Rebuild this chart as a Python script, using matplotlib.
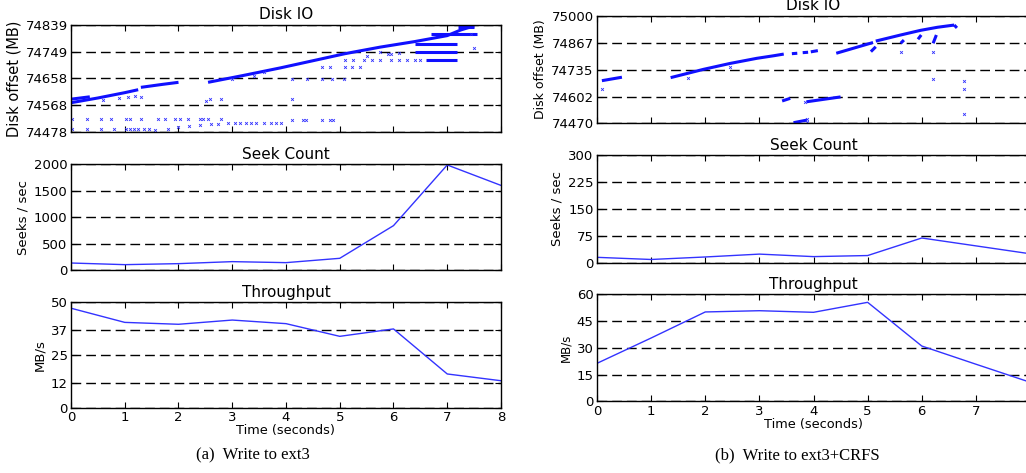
import matplotlib
matplotlib.use("Agg")
import matplotlib.pyplot as plt

plt.rcParams['font.family'] = ['DejaVu Sans']

seconds = [0, 1, 2, 3, 4, 5, 6, 7, 8]

# seek counts (seeks / sec)
seek_ext3 = [132, 101, 120, 158, 139, 221, 839, 1987, 1600]
seek_crfs = [15, 9, 16, 24, 17, 20, 69, 47, 25]

# throughput (MB/s)
thru_ext3 = [47.2, 40.5, 39.6, 41.6, 39.9, 33.9, 37.4, 16.1, 12.9]
thru_crfs = [21.3, 35.5, 50.1, 50.8, 49.9, 55.5, 31.0, 20.8, 10.7]

# disk offsets: dense runs as (times, offsets) polylines, plus loose requests
ext3_runs = [
    ([0.0, 0.5, 1.0, 1.25], [74576, 74592, 74610, 74620]),
    ([0.0, 0.35], [74588, 74596]),
    ([1.3, 1.7, 2.0], [74628, 74638, 74645]),
    ([2.55, 3.2, 3.9, 4.5, 5.1, 5.75, 6.4, 7.0, 7.25, 7.5],
     [74645, 74668, 74694, 74718, 74742, 74764, 74783, 74803, 74822, 74836]),
    ([6.7, 7.55], [74808, 74808]),
    ([6.4, 7.18], [74776, 74776]),
    ([6.4, 7.18], [74749, 74749]),
    ([6.6, 7.18], [74720, 74720]),
    ([7.2, 7.5], [74832, 74832]),
]
ext3_pts_t = [0.02, 0.29, 0.56, 0.75, 1.03, 1.09, 1.31, 1.62, 1.74, 1.93, 2.02, 2.18, 2.40, 2.46, 2.55, 2.80,
              0.02, 0.29, 0.56, 0.80, 1.03, 1.10, 1.17, 1.25, 1.35, 1.45,
              1.56, 1.80, 2.00, 2.20, 2.40, 2.60, 2.74,
              2.92, 3.05, 3.15, 3.25, 3.35, 3.45, 3.60, 3.73, 3.82, 3.90,
              1.06, 1.31, 2.52, 2.58, 2.80,
              4.11, 4.39, 4.67, 4.85, 5.07,
              4.67, 4.82, 5.10, 5.23, 5.38,
              4.11,
              4.11, 4.32, 4.38, 4.67, 4.82, 4.87,
              5.10, 5.25, 5.45, 5.60, 5.75, 5.95, 6.10, 6.25, 6.40, 6.50,
              0.60, 0.90, 1.20, 3.00, 3.40, 3.60, 5.50, 5.90, 6.10, 7.45, 7.50, 5.75, 5.95]
ext3_pts_mb = [74520] * 16 + \
              [74486] * 10 + \
              [74484, 74488, 74493, 74497, 74500, 74504, 74505] + \
              [74506] * 10 + \
              [74596, 74596, 74582, 74589, 74589] + \
              [74655] * 5 + \
              [74696] * 5 + \
              [74589] + \
              [74517] * 6 + \
              [74720] * 10 + \
              [74585, 74592, 74600, 74655, 74665, 74680, 74735, 74740, 74745, 74810, 74760, 74749, 74740]

crfs_runs = [
    ([0.09, 0.46], [74680, 74697]),
    ([1.36, 1.97, 2.46, 2.95, 3.27, 3.45], [74695, 74736, 74765, 74790, 74803, 74811]),
    ([3.6, 3.7], [74813, 74815]),
    ([3.8, 3.9], [74818, 74820]),
    ([3.95, 4.08], [74822, 74828]),
    ([4.42, 5.1], [74815, 74868]),
    ([5.15, 5.61, 5.98, 6.29, 6.6], [74875, 74905, 74928, 74943, 74954]),
    ([5.06, 5.15], [74823, 74847]),
    ([5.61, 5.67], [74864, 74880]),
    ([5.93, 5.99], [74884, 74905]),
    ([6.21, 6.27], [74864, 74905]),
    ([6.6, 6.65], [74954, 74940]),
    ([3.42, 3.57], [74580, 74593]),
    ([3.87, 4.5], [74576, 74600]),
    ([3.63, 3.88], [74473, 74486]),
]
crfs_pts_t = [0.10, 1.68, 2.46, 3.85, 5.61, 6.21, 6.21, 6.78, 6.78, 6.78, 3.88, 3.88]
crfs_pts_mb = [74637, 74695, 74749, 74576, 74823, 74823, 74687, 74680, 74639, 74516, 74474, 74490]

ext3_disk_ticks = [74478, 74568, 74658, 74749, 74839]
crfs_disk_ticks = [74470, 74602, 74735, 74867, 75000]


def style(ax, yticks, ylim, ylabel, title, labsize=9.5, bottom=False):
    ax.set_xlim(0, 8)
    ax.set_ylim(*ylim)
    ax.set_xticks(seconds)
    ax.set_yticks(yticks)
    ax.set_yticklabels([str(v) for v in yticks])
    ax.grid(axis='y', color='black', linestyle=(0, (7, 3.6)), linewidth=1)
    ax.tick_params(direction='in', top=True, right=True, length=4, width=0.8,
                   labelsize=9.5, pad=2.5)
    if bottom:
        ax.set_xlabel('Time (seconds)', fontsize=9.3, labelpad=0)
    else:
        ax.set_xticklabels([])
    ax.set_ylabel(ylabel, fontsize=labsize, labelpad=3)
    ax.set_title(title, fontsize=11, pad=4)
    for s in ax.spines.values():
        s.set_linewidth(1)


fig = plt.figure(figsize=(10.26, 4.73), dpi=100)

# left column: ext3
ax1 = fig.add_axes([0.0692, 0.7216, 0.4191, 0.2256])
ax2 = fig.add_axes([0.0692, 0.4292, 0.4191, 0.2235])
ax3 = fig.add_axes([0.0692, 0.1374, 0.4191, 0.2235])
# right column: ext3+CRFS (runs off the right edge like the source)
ax4 = fig.add_axes([0.5819, 0.7393, 0.4220, 0.2275])
ax5 = fig.add_axes([0.5819, 0.4446, 0.4220, 0.2271])
ax6 = fig.add_axes([0.5819, 0.1516, 0.4220, 0.2262])

for t, mb in ext3_runs:
    ax1.plot(t, mb, color='#1010ff', lw=2.2, solid_capstyle='butt')
ax1.plot(ext3_pts_t, ext3_pts_mb, 'x', color='#3030ff', ms=2, mew=0.6)
style(ax1, ext3_disk_ticks, (74478, 74839), 'Disk offset (MB)', 'Disk IO', labsize=10.5)

ax2.plot(seconds, seek_ext3, color='#3333ff', lw=1)
style(ax2, [0, 500, 1000, 1500, 2000], (0, 2000), 'Seeks / sec', 'Seek Count')

ax3.plot(seconds, thru_ext3, color='#3333ff', lw=1)
style(ax3, [0, 12, 25, 37, 50], (0, 50), 'MB/s', 'Throughput', bottom=True)

for t, mb in crfs_runs:
    ax4.plot(t, mb, color='#1010ff', lw=2.2, solid_capstyle='butt')
ax4.plot(crfs_pts_t, crfs_pts_mb, 'x', color='#3030ff', ms=2, mew=0.6)
style(ax4, crfs_disk_ticks, (74470, 75000), 'Disk offset (MB)', 'Disk IO', labsize=9)

ax5.plot(seconds, seek_crfs, color='#3333ff', lw=1)
style(ax5, [0, 75, 150, 225, 300], (0, 300), 'Seeks / sec', 'Seek Count')

ax6.plot(seconds, thru_crfs, color='#3333ff', lw=1)
style(ax6, [0, 15, 30, 45, 60], (0, 60), 'MB/s', 'Throughput', labsize=8.5, bottom=True)

fig.text(0.2466, 0.021, '(a)  Write to ext3', ha='center', va='bottom',
         family='Liberation Serif', fontsize=12)
fig.text(0.777, 0.021, '(b)  Write to ext3+CRFS', ha='center', va='bottom',
         family='Liberation Serif', fontsize=12)

fig.savefig('out.png', dpi=100)
